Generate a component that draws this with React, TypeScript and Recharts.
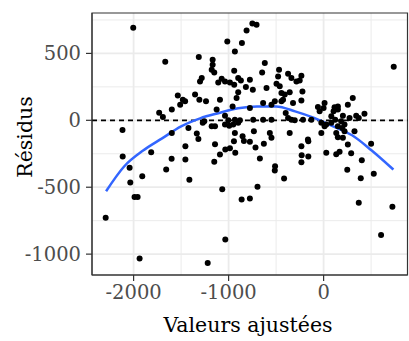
import React from 'react';
import {
  ComposedChart,
  Scatter,
  Line,
  XAxis,
  YAxis,
  CartesianGrid,
  ReferenceLine,
  ReferenceArea,
  Label,
} from 'recharts';

// valeurs ajustées (x) et résidus (y)
const fitted = [
  -2294, -2117, -2115, -2042, -2035, -2004, -1990, -1958, -1937, -1909,
  -1815, -1667, -1657, -1731, -1692, -1600, -1598, -1598, -1535, -1482,
  -1458, -1510, -1353, -1308, -1238, -1314, -1283, -1301, -1168, -1168,
  -1178, -1151, -1014, -860, -934, -941, -1073, -1038, -986, -1109,
  -899, -871, -941, -818, -776, -899, -916, -1091, -958, -776,
  -1126, -1038, -1003, -934, -881, -1256, -1272, -1423, -1178, -1143,
  -1038, -993, -951, -899, -1335, -1318, -934, -853, -1455, -1455,
  -1143, -1413, -1151, -1091, -1035, -986, -930, -944, -839, -776,
  -1067, -863, -776, -1035, -1220, -811, -750, -706, -619, -647,
  -469, -479, -374, -339, -234, -252, -286, -745, -601, -496,
  -462, -444, -409, -357, -427, -444, -223, -234, -514, -549,
  -637, -322, -399, -374, -339, -637, -549, -741, -217, -129,
  -60, -42, 0, -24, 10, -24, -734, -566, -549, -357,
  -165, -717, -629, -671, -511, -514, -416, -696, -234, -161,
  -231, -161, -234, 28, 738, 307, 255, 115, 150, 105,
  81, 203, 273, 343, 370, 430, 122, 185, 220, 196,
  133, 150, 325, 255, 500, 290, 133, 168, 402, 249,
  391, 528, 370, 724, 605, 150, 28, 81, 150, 220,
  203, 10, -304,
];
const residuals = [
  -728, -72, -271, -355, -465, 692, -574, -574, -1032, -418,
  -239, 437, -368, 57, 25, -287, 80, -94, 185, 154,
  142, 117, 192, 154, 142, 473, 316, 291, 453, 416,
  378, 358, 589, 577, 515, 371, 311, 291, 283, 283,
  316, 298, 266, 249, 304, 209, 167, 154, 104, 92,
  80, 35, 0, 5, 0, -7, -19, -57, -45, -45,
  -32, -40, -32, -19, -99, -139, -94, -119, -194, -293,
  -179, -445, -310, -256, -219, -209, -243, -157, -154, -161,
  -515, -592, -584, -890, -1067, 671, 723, 714, 428, 358,
  378, 328, 348, 316, 333, 298, 291, 229, 242, 274,
  254, 204, 192, 209, 154, 142, 216, 149, 142, 117,
  130, 130, 55, 18, 5, 5, 5, 5, 5, 5,
  100, 67, 92, -19, -45, -94, -82, -94, -131, -94,
  -144, -204, -176, -286, -343, -375, -435, -497, -194, -157,
  -261, -271, -313, -243, 400, 167, 117, 97, 104, 67,
  30, 35, 18, 35, 18, 50, 5, -7, -32, -57,
  -94, -127, -82, -181, -176, -246, -254, -234, -298, -370,
  -433, -400, -616, -646, -858, 80, -32, -19, -45, -82,
  -131, 130, 0,
];

// courbe de lissage (loess)
const smoothFitted = [-2290, -2100, -1900, -1700, -1500, -1300, -1100, -900, -700, -500, -300, -100, 100, 300, 500, 734];
const smoothResid = [-530, -345, -226, -135, -45, 15, 55, 90, 104, 103, 67, 18, -45, -112, -222, -368];

const xTicks = [-2000, -1000, 0];
const yTicks = [-1000, -500, 0, 500];
const xMinor = [-1500, -500, 500];
const yMinor = [-750, -250, 250, 750];

const points = fitted.map((x, i) => ({ x, y: residuals[i] }));
const smooth = smoothFitted.map((x, i) => ({ x, y: smoothResid[i] }));

const X_DOMAIN: [number, number] = [-2438, 883];
const Y_DOMAIN: [number, number] = [-1156, 802];

const FONT = 'DejaVu Serif';
const tickStyle = { fill: '#4D4D4D', fontSize: 19.5, fontFamily: FONT };

const Dot = (p: any) => <circle cx={p.cx} cy={p.cy} r={3} fill="#000" />;

export default function App() {
  return (
    <div style={{ position: 'absolute', left: 0, top: 0, width: 409, height: 341, background: '#fff' }}>
      <ComposedChart
        width={409}
        height={341}
        margin={{ top: 13, right: 1.5, bottom: 0, left: 0 }}
      >
        <CartesianGrid horizontalValues={yMinor} verticalValues={xMinor} stroke="#EBEBEB" strokeWidth={1} />
        <CartesianGrid horizontalValues={yTicks} verticalValues={xTicks} stroke="#EBEBEB" strokeWidth={1.8} />
        <XAxis
          type="number"
          dataKey="x"
          domain={X_DOMAIN}
          ticks={xTicks}
          allowDataOverflow
          height={66}
          tick={tickStyle}
          tickSize={6}
          tickMargin={4}
          axisLine={{ stroke: '#333333' }}
          tickLine={{ stroke: '#333333', strokeWidth: 1.2 }}
        >
          <Label
            content={() => (
              <text x={248} y={332} textAnchor="middle" fontSize={20.5} fontFamily={FONT} fill="#000">
                Valeurs ajustées
              </text>
            )}
          />
        </XAxis>
        <YAxis
          type="number"
          dataKey="y"
          domain={Y_DOMAIN}
          ticks={yTicks}
          allowDataOverflow
          width={92}
          tick={tickStyle}
          tickSize={6}
          tickMargin={5}
          axisLine={{ stroke: '#333333' }}
          tickLine={{ stroke: '#333333', strokeWidth: 1.2 }}
        >
          <Label
            content={() => (
              <text
                x={32}
                y={137}
                transform="rotate(-90 32 137)"
                textAnchor="middle"
                fontSize={20.5}
                fontFamily={FONT}
                fill="#000"
              >
                Résidus
              </text>
            )}
          />
        </YAxis>
        <ReferenceLine y={0} stroke="#000" strokeWidth={1.7} strokeDasharray="5 4" />
        <Scatter data={points} dataKey="y" shape={Dot} isAnimationActive={false} />
        <Line
          data={smooth}
          dataKey="y"
          type="monotone"
          stroke="#3366FF"
          strokeWidth={2.5}
          dot={false}
          activeDot={false}
          isAnimationActive={false}
        />
        <ReferenceArea
          x1={X_DOMAIN[0]}
          x2={X_DOMAIN[1]}
          y1={Y_DOMAIN[0]}
          y2={Y_DOMAIN[1]}
          fill="none"
          stroke="#333333"
          strokeWidth={1.2}
        />
      </ComposedChart>
    </div>
  );
}
